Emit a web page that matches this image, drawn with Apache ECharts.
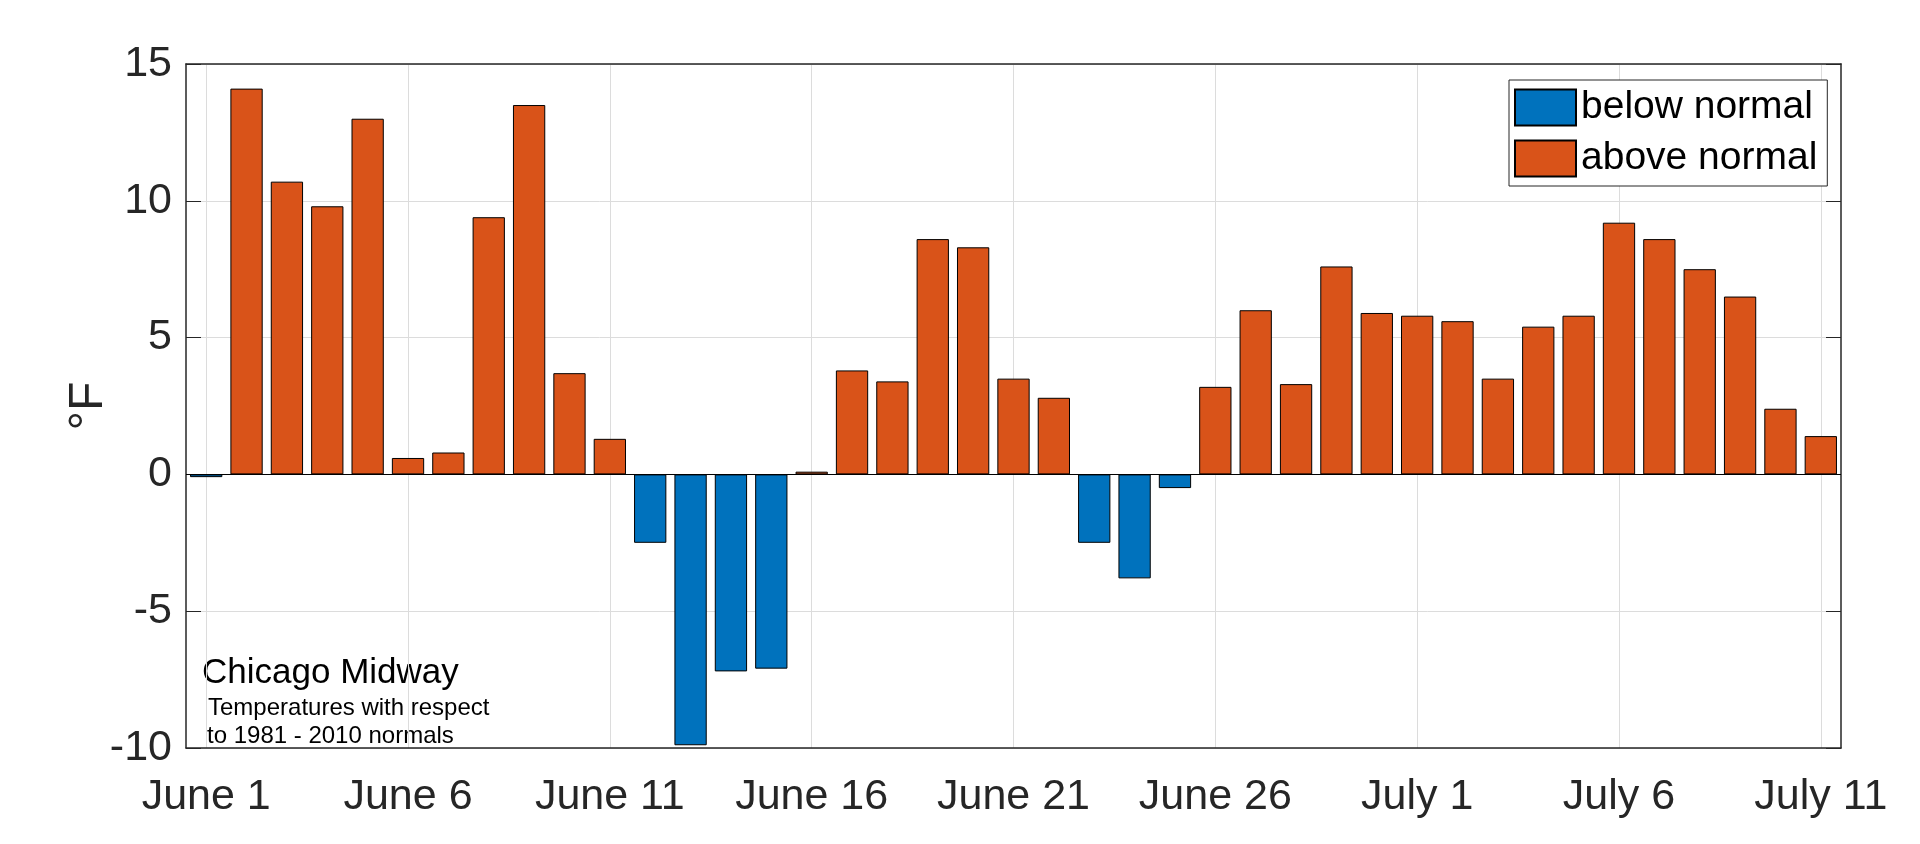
<!DOCTYPE html>
<html style="height: 100%">

<head>
  <meta charset="utf-8">
  <script src="https://cdn.jsdelivr.net/npm/echarts@6/dist/echarts.min.js"></script>
</head>

<body style="height: 100%; margin: 0">
  <div id="main" style="width: 1920px; height: 844px"></div>

  <script type="text/javascript">
    // daily temperature departure from normal (degrees F), Chicago Midway
    var days = [
      'June 1', 'June 2', 'June 3', 'June 4', 'June 5', 'June 6', 'June 7', 'June 8', 'June 9', 'June 10',
      'June 11', 'June 12', 'June 13', 'June 14', 'June 15', 'June 16', 'June 17', 'June 18', 'June 19', 'June 20',
      'June 21', 'June 22', 'June 23', 'June 24', 'June 25', 'June 26', 'June 27', 'June 28', 'June 29', 'June 30',
      'July 1', 'July 2', 'July 3', 'July 4', 'July 5', 'July 6', 'July 7', 'July 8', 'July 9', 'July 10', 'July 11'
    ];
    var departure = [
      -0.1, 14.1, 10.7, 9.8, 13.0, 0.6, 0.8, 9.4, 13.5, 3.7,
      1.3, -2.5, -9.9, -7.2, -7.1, 0.1, 3.8, 3.4, 8.6, 8.3,
      3.5, 2.8, -2.5, -3.8, -0.5, 3.2, 6.0, 3.3, 7.6, 5.9,
      5.8, 5.6, 3.5, 5.4, 5.8, 9.2, 8.6, 7.5, 6.5, 2.4, 1.4
    ];
    var yMin = -10, yMax = 15, yStep = 5;
    var labelEvery = 5;

    var below = departure.map(function (v) { return v < 0 ? v : '-'; });
    var above = departure.map(function (v) { return v >= 0 ? v : '-'; });

    var font = 'Liberation Sans, Arial, Helvetica, sans-serif';
    var axisColor = '#262626';
    var everyFifth = function (i) { return i % labelEvery === 0; };

    var myChart = echarts.init(document.getElementById('main'));
    var option = {
      animation: false,
      backgroundColor: '#fff',
      textStyle: { fontFamily: font },
      grid: { left: 186, right: 79, top: 64, bottom: 96 },
      legend: {
        orient: 'vertical',
        left: 1509,
        top: 80,
        icon: 'rect',
        itemWidth: 61,
        itemHeight: 36,
        itemGap: 12,
        padding: [8, 10, 8, 5],
        borderColor: axisColor,
        borderWidth: 1,
        backgroundColor: '#fff',
        textStyle: { fontSize: 39, color: '#000', fontFamily: font },
        data: ['below normal', 'above normal']
      },
      xAxis: [{
        type: 'category',
        data: days,
        position: 'bottom',
        axisLine: { onZero: false, lineStyle: { color: axisColor, width: 1.5 } },
        axisTick: { inside: true, length: 15, alignWithLabel: true, interval: everyFifth, lineStyle: { color: axisColor } },
        axisLabel: { interval: everyFifth, fontSize: 43, color: axisColor, margin: 28, fontFamily: font },
        splitLine: { show: true, alignWithLabel: true, interval: everyFifth, lineStyle: { color: '#dcdcdc' } }
      }, {
        type: 'category',
        data: days,
        position: 'top',
        axisLine: { onZero: false, lineStyle: { color: axisColor, width: 1.5 } },
        axisTick: { inside: true, length: 15, alignWithLabel: true, interval: everyFifth, lineStyle: { color: axisColor } },
        axisLabel: { show: false },
        splitLine: { show: false }
      }],
      yAxis: [{
        type: 'value',
        min: yMin,
        max: yMax,
        interval: yStep,
        name: '°F',
        nameLocation: 'middle',
        nameRotate: 90,
        nameGap: 73,
        nameMoveOverlap: false,
        nameTextStyle: { fontSize: 48, color: axisColor, fontFamily: font },
        axisLine: { show: true, lineStyle: { color: axisColor, width: 1.5 } },
        axisTick: { show: true, inside: true, length: 15, lineStyle: { color: axisColor } },
        axisLabel: { fontSize: 43, color: axisColor, margin: 14, fontFamily: font },
        splitLine: { show: true, lineStyle: { color: '#dcdcdc' } }
      }, {
        type: 'value',
        min: yMin,
        max: yMax,
        interval: yStep,
        position: 'right',
        axisLine: { show: true, lineStyle: { color: axisColor, width: 1.5 } },
        axisTick: { show: true, inside: true, length: 15, lineStyle: { color: axisColor } },
        axisLabel: { show: false },
        splitLine: { show: false }
      }],
      graphic: [{
        type: 'text', left: 202, top: 656,
        style: { text: 'Chicago Midway', fontSize: 35, fill: '#000', fontFamily: font }
      }, {
        type: 'text', left: 208, top: 696,
        style: { text: 'Temperatures with respect', fontSize: 24, fill: '#000', fontFamily: font }
      }, {
        type: 'text', left: 207, top: 724,
        style: { text: 'to 1981 - 2010 normals', fontSize: 24, fill: '#000', fontFamily: font }
      }],
      series: [{
        name: 'below normal',
        type: 'bar',
        data: below,
        barWidth: '80%',
        barGap: '-100%',
        itemStyle: { color: '#0072BD', borderColor: '#000', borderWidth: 1 }
      }, {
        name: 'above normal',
        type: 'bar',
        data: above,
        barWidth: '80%',
        barGap: '-100%',
        itemStyle: { color: '#D95319', borderColor: '#000', borderWidth: 1 },
        markLine: {
          silent: true,
          symbol: ['none', 'none'],
          label: { show: false },
          lineStyle: { color: '#000', width: 1.2, type: 'solid' },
          data: [{ yAxis: 0 }]
        }
      }]
    };
    myChart.setOption(option, true);
  </script>
</body>

</html>
